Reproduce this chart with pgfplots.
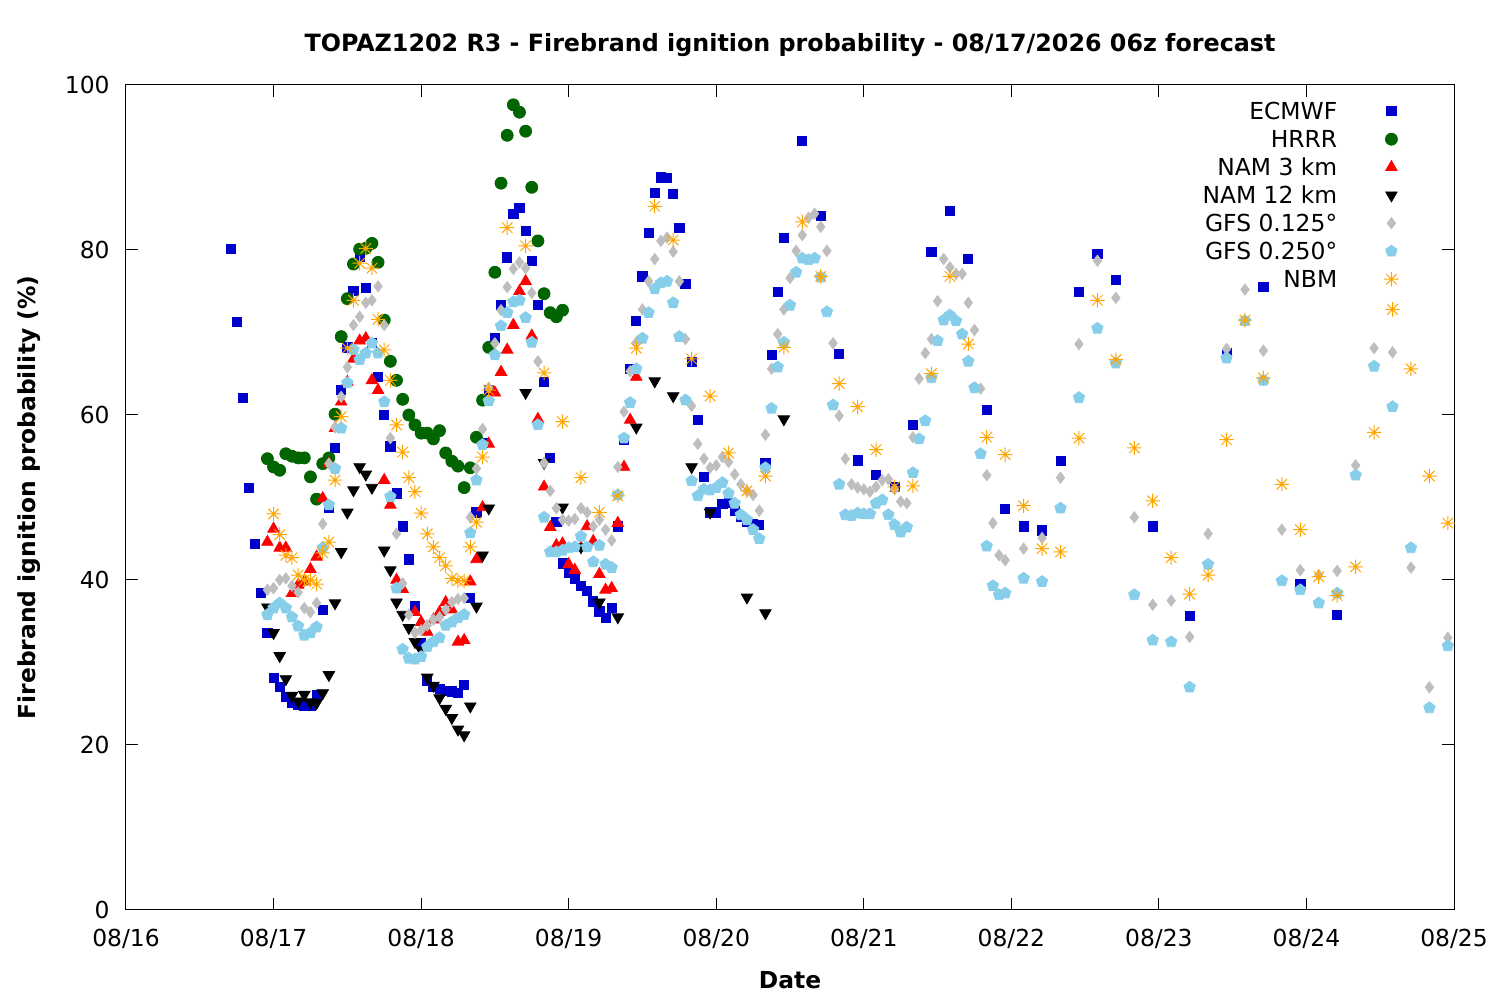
\documentclass[border=0pt]{standalone}
\usepackage{fontspec}
\setmainfont{DejaVu Sans}
\usepackage{pgfplots}
\pgfplotsset{compat=1.18}
\definecolor{ecb}{RGB}{0,0,204}
\definecolor{hrg}{RGB}{0,100,0}
\definecolor{gfa}{RGB}{190,190,190}
\definecolor{gfb}{RGB}{135,206,235}
\definecolor{nbo}{RGB}{255,165,0}
\pgfdeclareplotmark{gstar}{%
  \pgfpathmoveto{\pgfqpoint{-\pgfplotmarksize}{0pt}}\pgfpathlineto{\pgfqpoint{\pgfplotmarksize}{0pt}}%
  \pgfpathmoveto{\pgfqpoint{0pt}{-\pgfplotmarksize}}\pgfpathlineto{\pgfqpoint{0pt}{\pgfplotmarksize}}%
  \pgfpathmoveto{\pgfqpoint{-.72\pgfplotmarksize}{-.72\pgfplotmarksize}}\pgfpathlineto{\pgfqpoint{.72\pgfplotmarksize}{.72\pgfplotmarksize}}%
  \pgfpathmoveto{\pgfqpoint{-.72\pgfplotmarksize}{.72\pgfplotmarksize}}\pgfpathlineto{\pgfqpoint{.72\pgfplotmarksize}{-.72\pgfplotmarksize}}%
  \pgfusepathqstroke}
\pgfplotsset{
  gm/.style={only marks, legend image code/.code={\draw[##1] plot coordinates {(0pt,4.2pt)};}},
}
\begin{document}
\fontsize{11.7pt}{14pt}\selectfont
\begin{tikzpicture}
\useasboundingbox (-63pt,-45pt) rectangle (687pt,455pt);
\begin{axis}[
  scale only axis, width=664pt, height=412.5pt,
  at={(0,0)}, anchor=south west,
  xmin=0, xmax=216, ymin=0, ymax=100,
  xtick={0,24,...,216},
  xticklabels={08/16,08/17,08/18,08/19,08/20,08/21,08/22,08/23,08/24,08/25},
  ytick={0,20,...,100},
  /pgf/number format/assume math mode=true,
  tick align=inside, major tick length=6pt,
  tick style={black, line width=0.5pt},
  axis line style={line width=0.5pt},
  xticklabel style={anchor=base, yshift=-18.5pt, inner sep=0pt},
  yticklabel style={anchor=east, xshift=-8pt, inner sep=0pt},
  title={\fontsize{11.9pt}{14pt}\selectfont\bfseries TOPAZ1202 R3 - Firebrand ignition probability - 08/17/2026 06z forecast},
  title style={at={(axis description cs:0.5,1.0261)}, anchor=base, inner sep=0pt},
  xlabel={\bfseries Date},
  xlabel style={at={(axis description cs:0.5,-0.0946)}, anchor=base, inner sep=0pt},
  ylabel={\bfseries Firebrand ignition probability (\%)},
  ylabel style={at={(axis description cs:-0.0685,0.5)}, anchor=base, rotate=0, inner sep=0pt},
  clip mode=individual,
  legend plot pos=right,
  legend cell align=right,
  legend style={draw=none, fill=none, at={(axis description cs:0.9586,0.9818)}, anchor=north east,
    row sep=0pt, inner sep=0pt, column sep=0pt,
    nodes={inner sep=0pt, text height=9.6pt, text depth=4.4pt, anchor=base east},
    /tikz/every odd column/.style={column sep=23.5pt}},
]
\addplot[gm, mark=square*, mark size=2.3pt, color=ecb] coordinates {
(17,80.1)(18,71.3)(19,62.1)(20,51.2)(21,44.4)(22,38.4)(23,33.6)(24,28.1)(25,27.0)(26,25.8)(27,25.1)(28,24.9)(29,24.8)(30,24.7)(31,26.1)(32,36.4)(33,48.7)(34,56.0)(35,63.0)(36,68.2)(37,75.0)(38,79.2)(39,75.4)(40,68.7)(41,64.6)(42,60.0)(43,56.2)(44,50.5)(45,46.5)(46,42.5)(47,36.8)(48,32.4)(49,27.8)(50,27.0)(51,26.8)(52,26.6)(53,26.5)(54,26.3)(55,27.3)(56,37.8)(57,48.2)(58,56.6)(59,63.0)(60,69.3)(61,73.3)(62,79.1)(63,84.4)(64,85.1)(65,82.3)(66,78.7)(67,73.3)(68,64.0)(69,54.8)(70,47.0)(71,42.0)(72,40.9)(73,40.1)(74,39.3)(75,38.7)(76,37.4)(77,36.2)(78,35.4)(79,36.6)(80,46.5)(81,57.0)(82,65.6)(83,71.4)(84,76.8)(85,82.1)(86,86.9)(87,88.8)(88,88.7)(89,86.8)(90,82.7)(91,75.9)(92,66.4)(93,59.4)(94,52.5)(95,48.2)(96,48.2)(97,49.2)(98,49.3)(99,48.4)(100,47.6)(101,47.0)(102,46.8)(103,46.7)(104,54.2)(105,67.3)(106,74.9)(107,81.5)(110,93.2)(113,84.1)(116,67.4)(119,54.5)(122,52.7)(125,51.3)(128,58.8)(131,79.8)(134,84.7)(137,78.9)(140,60.6)(143,48.6)(146,46.5)(149,46.0)(152,54.4)(155,74.9)(158,79.5)(161,76.4)(167,46.5)(173,35.6)(179,67.5)(185,75.5)(191,39.5)(197,35.8)
};
\addlegendentry{ECMWF}
\addplot[gm, mark=*, mark size=3pt, color=hrg] coordinates {
(23,54.7)(24,53.7)(25,53.3)(26,55.3)(27,55.0)(28,54.8)(29,54.8)(30,52.5)(31,49.8)(32,54.1)(33,54.8)(34,60.1)(35,69.5)(36,74.1)(37,78.3)(38,80.1)(39,80.2)(40,80.8)(41,78.5)(42,71.5)(43,66.5)(44,64.2)(45,61.9)(46,60.0)(47,58.8)(48,57.8)(49,57.8)(50,57.1)(51,58.1)(52,55.4)(53,54.4)(54,53.8)(55,51.2)(56,53.6)(57,57.3)(58,61.8)(59,68.2)(60,77.3)(61,88.1)(62,93.9)(63,97.6)(64,96.7)(65,94.4)(66,87.6)(67,81.1)(68,74.7)(69,72.4)(70,71.9)(71,72.7)
};
\addlegendentry{HRRR}
\addplot[gm, mark=triangle*, mark size=3.3pt, color=red] coordinates {
(23,44.6)(24,46.2)(25,43.9)(26,43.9)(27,38.4)(28,39.4)(29,39.8)(30,41.3)(31,42.8)(32,49.9)(33,54.1)(34,58.4)(35,61.6)(36,64.0)(37,66.8)(38,69.0)(39,69.3)(40,64.2)(41,63.0)(42,52.1)(43,49.1)(44,40.0)(45,38.9)(47,36.1)(48,34.9)(49,33.7)(50,35.2)(51,36.1)(52,37.3)(53,36.4)(54,32.5)(55,32.7)(56,39.8)(57,42.5)(58,48.8)(59,56.5)(60,62.7)(61,65.2)(62,67.9)(63,70.9)(64,75.0)(65,76.2)(66,69.6)(67,59.5)(68,51.3)(69,46.4)(70,44.2)(71,44.4)(72,41.9)(73,41.2)(74,43.9)(75,46.5)(76,44.7)(77,40.7)(78,38.8)(79,39.0)(80,46.9)(81,53.7)(82,59.4)(83,64.6)
};
\addlegendentry{NAM 3 km}
\addplot[gm, mark=triangle*, mark size=3.3pt, mark options={rotate=180}, color=black] coordinates {
(23,36.7)(24,33.6)(25,30.8)(26,28.0)(27,26.0)(28,25.3)(29,26.1)(30,25.2)(31,25.1)(32,26.3)(33,28.5)(34,37.2)(35,43.4)(36,48.2)(37,50.9)(38,53.7)(39,52.8)(40,51.2)(42,43.6)(43,41.2)(44,37.3)(45,35.8)(46,34.2)(47,32.5)(48,31.5)(49,28.2)(50,27.2)(51,25.7)(52,24.4)(53,23.3)(54,21.9)(55,21.2)(56,24.7)(57,36.8)(58,43.0)(59,48.7)(65,62.7)(68,54.2)(71,48.8)(74,44.0)(77,37.3)(80,35.5)(83,58.5)(86,64.1)(89,62.3)(92,53.7)(95,48.2)(101,37.9)(104,36.0)(107,59.5)
};
\addlegendentry{NAM 12 km}
\addplot[gm, mark=diamond*, mark size=2.8pt, color=gfa] coordinates {
(23,38.8)(24,39.0)(25,40.0)(26,40.2)(27,39.3)(28,38.5)(29,36.6)(30,36.1)(31,37.2)(32,46.8)(33,54.1)(34,58.5)(35,62.2)(36,65.8)(37,70.9)(38,71.9)(39,73.6)(40,73.9)(41,75.6)(42,70.9)(43,57.2)(44,45.6)(45,39.6)(46,35.8)(47,33.6)(48,33.9)(49,34.5)(50,35.2)(51,35.5)(52,36.4)(53,37.3)(54,37.7)(55,37.8)(56,47.6)(57,53.5)(58,58.3)(59,63.3)(60,68.7)(61,72.7)(62,75.5)(63,77.7)(64,78.5)(65,77.8)(66,74.8)(67,66.5)(68,54.2)(69,50.8)(70,48.7)(71,47.3)(72,47.2)(73,47.4)(74,48.7)(75,48.2)(76,46.5)(77,47.3)(78,46.1)(79,44.8)(80,53.7)(81,60.4)(82,65.3)(83,68.8)(84,72.8)(85,76.2)(86,78.9)(87,81.1)(88,81.5)(89,79.8)(90,76.2)(91,69.2)(92,61.1)(93,56.5)(94,54.7)(95,53.6)(96,53.9)(97,54.9)(98,54.3)(99,52.8)(100,51.6)(101,50.8)(102,50.3)(103,48.4)(104,57.6)(105,65.6)(106,69.8)(107,72.8)(108,76.6)(109,79.9)(110,81.8)(111,83.9)(112,84.4)(113,82.8)(114,79.9)(115,68.7)(116,59.9)(117,54.7)(118,51.6)(119,51.2)(120,51.0)(121,50.7)(122,51.3)(123,52.1)(124,52.2)(125,51.0)(126,49.5)(127,49.3)(128,57.3)(129,64.4)(130,67.5)(131,69.2)(132,73.8)(133,78.9)(134,77.9)(135,77.1)(136,77.1)(137,73.6)(138,70.3)(139,63.2)(140,52.7)(141,46.9)(142,43.0)(143,42.4)(146,43.8)(149,45.1)(152,52.4)(155,68.6)(158,78.7)(161,74.2)(164,47.6)(167,37.0)(170,37.5)(173,33.1)(176,45.6)(179,68.0)(182,75.2)(185,67.8)(188,46.1)(191,41.2)(194,40.6)(197,41.1)(200,53.9)(203,68.1)(206,67.6)(209,41.5)(212,27.0)(215,33.0)
};
\addlegendentry{GFS 0.125°}
\addplot[gm, mark=pentagon*, mark size=3pt, color=gfb] coordinates {
(23,35.8)(24,36.6)(25,37.2)(26,36.6)(27,35.5)(28,34.4)(29,33.3)(30,33.6)(31,34.3)(32,43.9)(33,49.1)(34,53.5)(35,58.4)(36,63.9)(37,67.9)(38,66.7)(39,67.5)(40,68.7)(41,67.5)(42,61.6)(43,50.1)(44,39.0)(45,31.6)(46,30.5)(47,30.4)(48,30.7)(49,31.9)(50,32.5)(51,33.0)(52,34.5)(53,34.9)(54,35.4)(55,35.8)(56,45.7)(57,52.1)(58,56.4)(59,61.7)(60,67.3)(61,70.8)(62,72.4)(63,73.7)(64,73.9)(65,71.8)(66,68.8)(67,58.8)(68,47.6)(69,43.4)(70,43.4)(71,43.6)(72,43.9)(73,44.0)(74,45.3)(75,44.0)(76,42.2)(77,44.2)(78,41.9)(79,41.5)(80,50.3)(81,57.2)(82,61.5)(83,65.6)(84,69.3)(85,72.4)(86,75.3)(87,76.0)(88,76.2)(89,73.6)(90,69.5)(91,61.8)(92,52.0)(93,50.2)(94,51.0)(95,50.9)(96,51.2)(97,51.8)(98,50.5)(99,49.3)(100,47.9)(101,47.3)(102,46.1)(103,45.0)(104,53.6)(105,60.8)(106,65.8)(107,68.8)(108,73.3)(109,77.3)(110,79.0)(111,78.8)(112,79.0)(113,76.7)(114,72.5)(115,61.2)(116,51.6)(117,47.9)(118,47.8)(119,48.1)(120,48.0)(121,48.0)(122,49.3)(123,49.7)(124,47.9)(125,46.7)(126,45.8)(127,46.4)(128,53.0)(129,57.1)(130,59.3)(131,64.5)(132,69.0)(133,71.5)(134,72.1)(135,71.4)(136,69.8)(137,66.5)(138,63.3)(139,55.3)(140,44.1)(141,39.3)(142,38.2)(143,38.4)(146,40.2)(149,39.8)(152,48.7)(155,62.1)(158,70.5)(161,66.3)(164,38.2)(167,32.7)(170,32.5)(173,27.0)(176,41.9)(179,66.9)(182,71.4)(185,64.2)(188,39.9)(191,38.8)(194,37.2)(197,38.4)(200,52.7)(203,65.9)(206,61.0)(209,43.9)(212,24.5)(215,32.0)
};
\addlegendentry{GFS 0.250°}
\addplot[gm, mark=gstar, mark size=3.6pt, mark options={line width=0.5pt}, color=nbo] coordinates {
(24,48.0)(25,45.5)(26,43.0)(27,42.7)(28,40.6)(29,40.0)(30,40.0)(31,39.5)(32,43.3)(33,44.6)(34,52.1)(35,59.8)(36,68.1)(37,73.9)(38,78.4)(39,80.2)(40,77.8)(41,71.6)(42,67.9)(43,64.2)(44,58.8)(45,55.5)(46,52.4)(47,50.7)(48,48.1)(49,45.6)(50,44.0)(51,42.7)(52,41.7)(53,40.2)(54,39.9)(55,39.9)(56,44.0)(57,47.0)(58,54.9)(59,63.0)(62,82.7)(65,80.5)(68,65.1)(71,59.2)(74,52.4)(77,48.2)(80,50.2)(83,68.1)(86,85.3)(89,81.2)(92,66.8)(95,62.3)(98,55.4)(101,50.8)(104,52.6)(107,68.2)(110,83.4)(113,76.8)(116,63.8)(119,61.0)(122,55.8)(125,51.3)(128,51.4)(131,65.0)(134,76.8)(137,68.6)(140,57.3)(143,55.2)(146,49.0)(149,43.8)(152,43.4)(155,57.2)(158,73.9)(161,66.7)(164,56.0)(167,49.6)(170,42.7)(173,38.3)(176,40.6)(179,57.0)(182,71.5)(185,64.5)(188,51.6)(191,46.1)(194,40.4)(197,38.1)(200,41.6)(203,57.9)(206,72.8)(209,65.6)(212,52.6)(215,46.9)
};
\addlegendentry{NBM}
\end{axis}
\end{tikzpicture}
\end{document}
